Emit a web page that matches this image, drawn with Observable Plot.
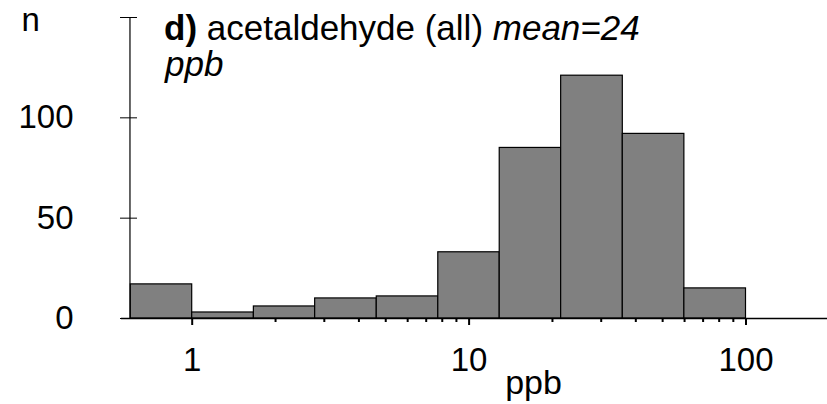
<!DOCTYPE html>
<html>
<head>
<meta charset="utf-8">
<script src="https://cdn.jsdelivr.net/npm/d3@7"></script>
<script src="https://cdn.jsdelivr.net/npm/@observablehq/plot@0.6"></script>
<style>
  html, body { margin: 0; padding: 0; background: #fff; }
  #chart { position: relative; width: 827px; height: 404px; }
  svg { font-family: "Liberation Sans", Arial, sans-serif; }
</style>
</head>
<body>
<div id="chart"></div>
<script>
// Histogram bin edges (ppb, log-spaced) and counts per bin
const binEdges = [0.6, 1, 1.67, 2.78, 4.64, 7.74, 12.9, 21.5, 35.9, 59.9, 100];
const counts = [17, 3, 6, 10, 11, 33, 85, 121, 92, 15];
const yTicks = [0, 50, 100, 150];
const yTickLabels = ["0", "50", "100", ""];
const xMajorTicks = [1, 10, 100];
const xMinorTicks = [2, 3, 4, 5, 6, 7, 8, 9, 20, 30, 40, 50, 60, 70, 80, 90];
const titleParts = [
  {text: "d)", weight: "bold", style: "normal"},
  {text: " acetaldehyde (all) ", weight: "normal", style: "normal"},
  {text: "mean=24", weight: "normal", style: "italic"}
];
const titleLine2 = "ppb";
const xLabel = "ppb";
const yLabel = "n";

const bins = counts.map((c, i) => ({x1: binEdges[i], x2: binEdges[i + 1], n: c}));

const chart = Plot.plot({
  width: 827,
  height: 404,
  marginLeft: 121,
  marginRight: 0,
  marginTop: 17,
  marginBottom: 86,
  style: {fontFamily: "Liberation Sans, Arial, sans-serif", background: "white", color: "black"},
  x: {type: "log", domain: [1, 100], range: [191.7, 745.5]},
  y: {domain: [0, 150]},
  marks: [
    Plot.rectY(bins, {x1: "x1", x2: "x2", y: "n", fill: "#808080", stroke: "black", strokeWidth: 1.2}),
    Plot.ruleY([0], {stroke: "black", strokeWidth: 1.3}),
    Plot.ruleX([binEdges[0]], {y1: 0, y2: yTicks[yTicks.length - 1], stroke: "black", strokeWidth: 1.2, dx: -0.8}),
    Plot.axisY({ticks: yTicks, tickSize: 17, dx: 16, tickPadding: 47, tickFormat: (d) => yTickLabels[yTicks.indexOf(d)], fontSize: 33, label: null, stroke: "black", strokeWidth: 1}),
    Plot.axisX({ticks: xMajorTicks, tickSize: 7, tickPadding: 22, tickFormat: d => String(d), fontSize: 33, label: null, strokeWidth: 2}),
    Plot.axisX({ticks: xMinorTicks, tickSize: 4, tickFormat: () => "", label: null, strokeWidth: 2}),
    Plot.text([xLabel], {frameAnchor: "bottom", dx: 59, dy: 75, fontSize: 34, fill: "black", lineAnchor: "bottom"}),
    Plot.text([yLabel], {frameAnchor: "top-left", dx: -100, dy: 13, fontSize: 33, fill: "black", lineAnchor: "bottom"})
  ]
});

document.getElementById("chart").appendChild(chart);

// Title inside the plot area, with mixed bold / italic runs
const svg = d3.select(chart);
const title = svg.append("text")
  .attr("x", 164)
  .attr("y", 40)
  .attr("text-anchor", "start")
  .attr("font-size", 35)
  .attr("fill", "black")
  .attr("font-family", "Liberation Sans, Arial, sans-serif")
  .style("white-space", "pre");
titleParts.forEach(p => {
  title.append("tspan")
    .attr("font-weight", p.weight)
    .attr("font-style", p.style)
    .text(p.text);
});
svg.append("text")
  .attr("x", 165)
  .attr("y", 76)
  .attr("text-anchor", "start")
  .attr("font-size", 35)
  .attr("font-style", "italic")
  .attr("fill", "black")
  .attr("font-family", "Liberation Sans, Arial, sans-serif")
  .text(titleLine2);
</script>
</body>
</html>
